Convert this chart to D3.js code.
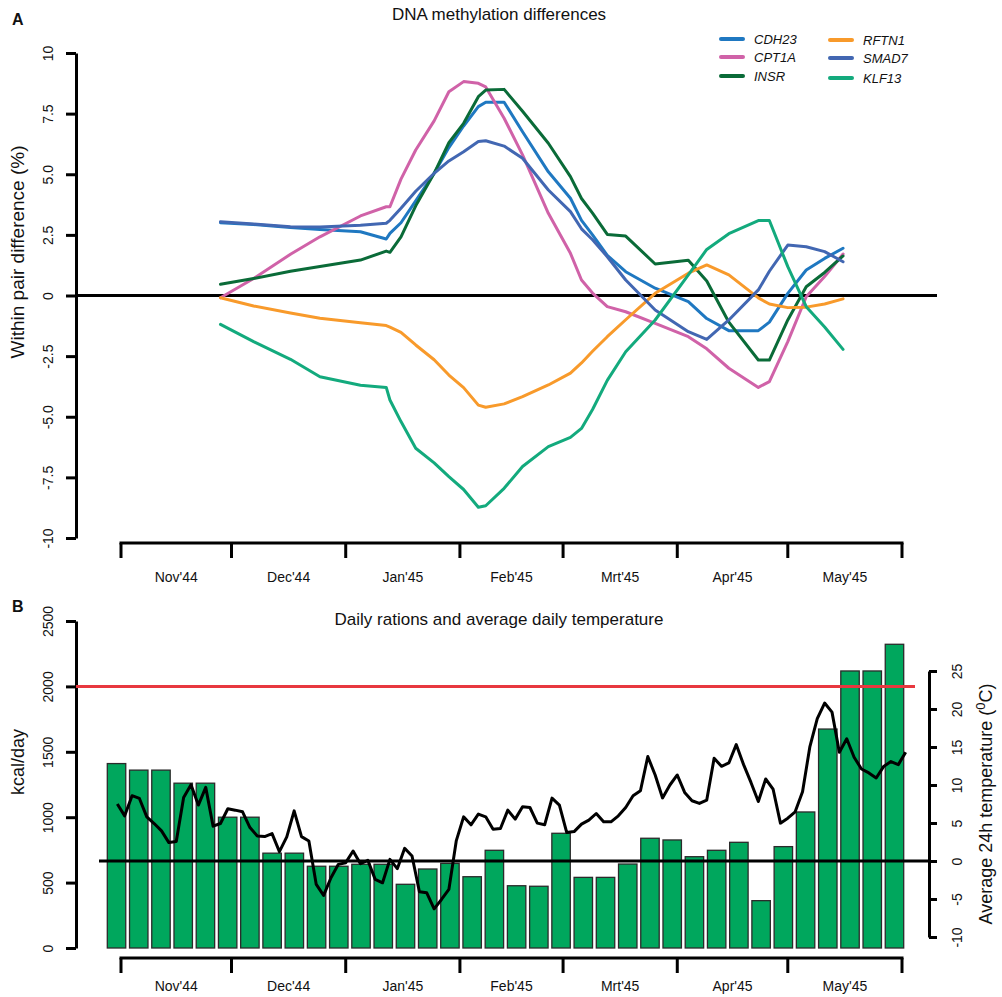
<!DOCTYPE html>
<html>
<head>
<meta charset="utf-8">
<script src="https://cdn.jsdelivr.net/npm/d3@7"></script>
<style>
  body { margin: 0; background: #fff; }
  text { font-family: "Liberation Sans", Arial, Helvetica, sans-serif; fill: #111; }
</style>
</head>
<body>
<svg id="chart" width="1002" height="997"></svg>
<script>
// ---------- shared month axis ----------
const monthLabels = ["Nov'44", "Dec'44", "Jan'45", "Feb'45", "Mrt'45", "Apr'45", "May'45"];
const monthBounds = ["1944-11-01", "1944-12-01", "1945-01-01", "1945-02-01",
                     "1945-03-01", "1945-04-01", "1945-05-01", "1945-06-01"];

// ---------- panel A: within-pair methylation differences (%) ----------
const methDates = ["1944-11-28", "1944-12-07", "1944-12-17", "1944-12-25", "1945-01-05",
  "1945-01-12", "1945-01-13", "1945-01-16", "1945-01-20", "1945-01-25", "1945-01-29",
  "1945-02-02", "1945-02-06", "1945-02-08", "1945-02-13", "1945-02-18", "1945-02-25",
  "1945-03-03", "1945-03-06", "1945-03-09", "1945-03-13", "1945-03-18", "1945-03-26",
  "1945-04-04", "1945-04-09", "1945-04-15", "1945-04-23", "1945-04-26", "1945-05-01",
  "1945-05-06", "1945-05-11", "1945-05-16"];
const genes = ["CDH23", "CPT1A", "INSR", "RFTN1", "SMAD7", "KLF13"];
const geneColors = ["#1F78C1", "#D062A8", "#0A6B38", "#F89A2B", "#4267B2", "#13AA7D"];
const cdh23 = [3.0, 2.93, 2.8, 2.72, 2.63, 2.33, 2.56, 3.0, 3.9, 5.04, 6.1, 6.99, 7.79, 7.97, 7.97,
  6.75, 5.1, 4.01, 3.1, 2.5, 1.65, 0.98, 0.3, -0.25, -0.95, -1.45, -1.45, -1.1, 0.09, 1.05, 1.53, 1.95];
const cpt1a = [-0.09, 0.7, 1.7, 2.42, 3.28, 3.66, 3.66, 4.8, 6.0, 7.2, 8.4, 8.82, 8.75, 8.6, 7.31,
  5.8, 3.39, 1.74, 0.64, 0.1, -0.46, -0.67, -1.15, -1.7, -2.2, -3.0, -3.79, -3.55, -1.9, -0.05, 0.78, 1.71];
const insr = [0.46, 0.7, 1.0, 1.2, 1.46, 1.83, 1.78, 2.42, 3.7, 5.04, 6.3, 7.1, 8.2, 8.47, 8.5,
  7.6, 6.28, 4.9, 4.0, 3.4, 2.52, 2.45, 1.3, 1.45, 0.6, -1.1, -2.66, -2.66, -1.01, 0.36, 0.95, 1.63];
const rftn1 = [-0.09, -0.43, -0.72, -0.94, -1.12, -1.24, -1.3, -1.52, -2.04, -2.65, -3.28, -3.8,
  -4.52, -4.61, -4.47, -4.17, -3.69, -3.2, -2.78, -2.3, -1.7, -1.0, 0.09, 0.92, 1.26, 0.85, -0.1,
  -0.35, -0.5, -0.48, -0.35, -0.14];
const smad7 = [3.04, 2.95, 2.84, 2.82, 2.9, 2.98, 3.1, 3.6, 4.3, 5.04, 5.55, 5.93, 6.35, 6.38, 6.16,
  5.66, 4.35, 3.46, 2.75, 2.3, 1.6, 0.64, -0.6, -1.49, -1.81, -1.01, 0.23, 1.0, 2.08, 2.01, 1.81, 1.39];
const klf13 = [-1.19, -1.9, -2.63, -3.35, -3.7, -3.79, -4.31, -5.2, -6.3, -6.9, -7.47, -8.0, -8.73,
  -8.67, -7.95, -7.05, -6.23, -5.85, -5.48, -4.7, -3.5, -2.32, -1.01, 0.85, 1.9, 2.55, 3.09, 3.09,
  1.19, -0.46, -1.3, -2.22];
const geneValues = [cdh23, cpt1a, insr, rftn1, smad7, klf13];
const methTicks = [-10, -7.5, -5, -2.5, 0, 2.5, 5, 7.5, 10];
const methTickLabels = ["-10", "-7.5", "-5.0", "-2.5", "0", "2.5", "5.0", "7.5", "10"];

// ---------- panel B: weekly rations (kcal/day) and 2-daily mean temperature ----------
const rations = [1410, 1360, 1360, 1260, 1260, 1000, 1000, 725, 725, 625, 625, 640, 640, 487, 604,
  647, 545, 747, 476, 472, 877, 540, 540, 642, 839, 826, 698, 747, 808, 362, 775, 1040, 1674, 2118,
  2118, 2322];
const kcalTicks = [0, 500, 1000, 1500, 2000, 2500];
const tempTicks = [-10, -5, 0, 5, 10, 15, 20, 25];
const tempStart = "1944-10-31";   // first reading; one reading every two days
const temperature = [7.49, 5.94, 8.59, 8.23, 5.81, 4.93, 3.96, 2.42, 2.56, 8.37, 10.04, 7.36, 9.69,
  4.58, 4.93, 6.87, 6.69, 6.47, 4.4, 3.3, 3.21, 3.61, 1.23, 3.17, 6.6, 3.21, 2.64, -3.08, -4.53, -2.2,
  -0.44, -0.22, 1.32, -0.36, 0.09, -2.42, -2.87, 0.22, -1.01, 1.67, 0.66, -4.05, -4.18, -6.29, -5.06,
  -3.74, 2.64, 5.81, 4.76, 6.17, 5.81, 4.19, 4.27, 6.69, 5.51, 7.13, 7.04, 4.98, 4.76, 8.28, 7.36,
  3.74, 3.87, 4.85, 5.38, 6.25, 5.15, 5.15, 5.94, 7.04, 8.59, 9.25, 13.74, 11.32, 8.3, 10.0, 11.32,
  9.02, 7.93, 7.57, 8.02, 13.51, 12.46, 12.9, 15.32, 12.68, 10.34, 7.83, 10.79, 9.47, 4.98, 5.64,
  6.47, 9.11, 15.06, 18.72, 20.78, 19.59, 14.31, 16.08, 13.65, 12.11, 11.59, 10.92, 12.42, 13.08,
  12.68, 14.31];
const recommendedKcal = 2000;

// ---------- drawing ----------
const svg = d3.select("#chart");
const parse = d3.utcParse("%Y-%m-%d");
const bounds = monthBounds.map(parse);
const x = d3.scaleUtc().domain([bounds[0], bounds[bounds.length - 1]]).range([121, 902]);

const AXIS_W = 3;

// R-style month axis: a line over the month boundaries, ticks down, labels centred in each month
function monthAxis(yLine, yLabel) {
  const g = svg.append("g");
  g.append("line").attr("x1", x(bounds[0])).attr("x2", x(bounds[bounds.length - 1]))
    .attr("y1", yLine).attr("y2", yLine).attr("stroke", "#000").attr("stroke-width", AXIS_W)
    .attr("stroke-linecap", "square");
  g.selectAll("line.tk").data(bounds).join("line").attr("class", "tk")
    .attr("x1", d => x(d)).attr("x2", d => x(d)).attr("y1", yLine).attr("y2", yLine + 15)
    .attr("stroke", "#000").attr("stroke-width", AXIS_W);
  g.selectAll("text").data(monthLabels).join("text")
    .attr("x", (d, i) => (x(bounds[i]) + x(bounds[i + 1])) / 2)
    .attr("y", yLabel).attr("text-anchor", "middle").attr("font-size", 14).text(d => d);
}

// Vertical axis with rotated tick labels (left or right side)
function valueAxis(scale, ticks, labels, xPos, side, labelX) {
  const axis = (side === "left" ? d3.axisLeft(scale) : d3.axisRight(scale))
    .tickValues(ticks).tickSizeOuter(0).tickSizeInner(side === "left" ? 10 : 8).tickFormat((d, i) => labels[i]);
  const g = svg.append("g").attr("transform", `translate(${xPos},0)`).call(axis);
  g.select(".domain").attr("stroke", "#000").attr("stroke-width", AXIS_W);
  g.selectAll(".tick line").attr("stroke", "#000").attr("stroke-width", AXIS_W);
  g.selectAll(".tick text")
    .attr("x", null).attr("dy", null).attr("y", null)
    .attr("transform", `translate(${labelX - xPos},0) rotate(-90)`)
    .attr("text-anchor", "middle").attr("font-size", 14).attr("fill", "#222")
    .style("font-family", '"Liberation Sans", Arial, sans-serif');
  return g;
}

// ===== Panel A =====
const yA = d3.scaleLinear().domain([-10, 10]).range([538, 53]);

svg.append("text").attr("x", 12).attr("y", 25).attr("font-size", 16).attr("font-weight", "bold").text("A");
svg.append("text").attr("x", 499).attr("y", 20).attr("text-anchor", "middle").attr("font-size", 17)
  .text("DNA methylation differences");
svg.append("text").attr("transform", "translate(24,252) rotate(-90)").attr("text-anchor", "middle")
  .attr("font-size", 19).text("Within pair difference (%)");

valueAxis(yA, methTicks, methTickLabels, 76, "left", 53);

// zero reference
svg.append("line").attr("x1", 76).attr("x2", 937).attr("y1", yA(0)).attr("y2", yA(0))
  .attr("stroke", "#000").attr("stroke-width", 3);

const methX = methDates.map(parse);
const lineA = d3.line().x((d, i) => x(methX[i])).y(d => yA(d));
svg.append("g").selectAll("path").data(geneValues).join("path")
  .attr("d", d => lineA(d)).attr("fill", "none")
  .attr("stroke", (d, i) => geneColors[i]).attr("stroke-width", 3)
  .attr("stroke-linejoin", "round").attr("stroke-linecap", "round");

monthAxis(543, 582);

// legend (two columns of three)
const legend = svg.append("g");
const legendPos = [[721, 39], [721, 57], [721, 76], [830, 40], [830, 58], [830, 78]];
genes.forEach((g, i) => {
  const [lx, ly] = legendPos[i];
  legend.append("line").attr("x1", lx).attr("x2", lx + 22).attr("y1", ly).attr("y2", ly)
    .attr("stroke", geneColors[i]).attr("stroke-width", 4).attr("stroke-linecap", "round");
  legend.append("text").attr("x", lx + 33).attr("y", ly + 5).attr("font-size", 13)
    .attr("font-style", "italic").text(g);
});

// ===== Panel B =====
const yB = d3.scaleLinear().domain([0, 2500]).range([948, 621]);
const yT = d3.scaleLinear().domain([-10, 25]).range([937, 671]);
const xBar = d3.scaleBand().domain(d3.range(rations.length)).range([107.3, 903.7])
  .paddingInner(0.17).paddingOuter(0);

svg.append("text").attr("x", 12).attr("y", 612).attr("font-size", 16).attr("font-weight", "bold").text("B");
svg.append("text").attr("x", 499).attr("y", 625).attr("text-anchor", "middle").attr("font-size", 17)
  .text("Daily rations and average daily temperature");
svg.append("text").attr("transform", "translate(24,762) rotate(-90)").attr("text-anchor", "middle")
  .attr("font-size", 18).text("kcal/day");

const tLabel = svg.append("text").attr("transform", "translate(992,804) rotate(-90)")
  .attr("text-anchor", "middle").attr("font-size", 18);
tLabel.append("tspan").text("Average 24h temperature (");
tLabel.append("tspan").attr("dy", -7).attr("font-size", 13).text("0");
tLabel.append("tspan").attr("dy", 7).text("C)");

valueAxis(yB, kcalTicks, kcalTicks.map(String), 76, "left", 53);
valueAxis(yT, tempTicks, tempTicks.map(String), 929, "right", 962);

// ration bars
svg.append("g").selectAll("rect").data(rations).join("rect")
  .attr("x", (d, i) => xBar(i)).attr("width", xBar.bandwidth())
  .attr("y", d => yB(d)).attr("height", d => yB(0) - yB(d))
  .attr("fill", "#00A75D").attr("stroke", "#2b2b2b").attr("stroke-width", 1.3);

// recommended intake and 0 °C reference lines
svg.append("line").attr("x1", 76).attr("x2", 915).attr("y1", yB(recommendedKcal)).attr("y2", yB(recommendedKcal))
  .attr("stroke", "#E8383F").attr("stroke-width", 3);
svg.append("line").attr("x1", 99).attr("x2", 929).attr("y1", yT(0)).attr("y2", yT(0))
  .attr("stroke", "#000").attr("stroke-width", 3);

// temperature line
const t0 = parse(tempStart);
const lineT = d3.line().x((d, i) => x(d3.utcDay.offset(t0, 2 * i))).y(d => yT(d));
svg.append("path").attr("d", lineT(temperature)).attr("fill", "none")
  .attr("stroke", "#000").attr("stroke-width", 3).attr("stroke-linejoin", "round");

monthAxis(958, 991);
</script>
</body>
</html>
